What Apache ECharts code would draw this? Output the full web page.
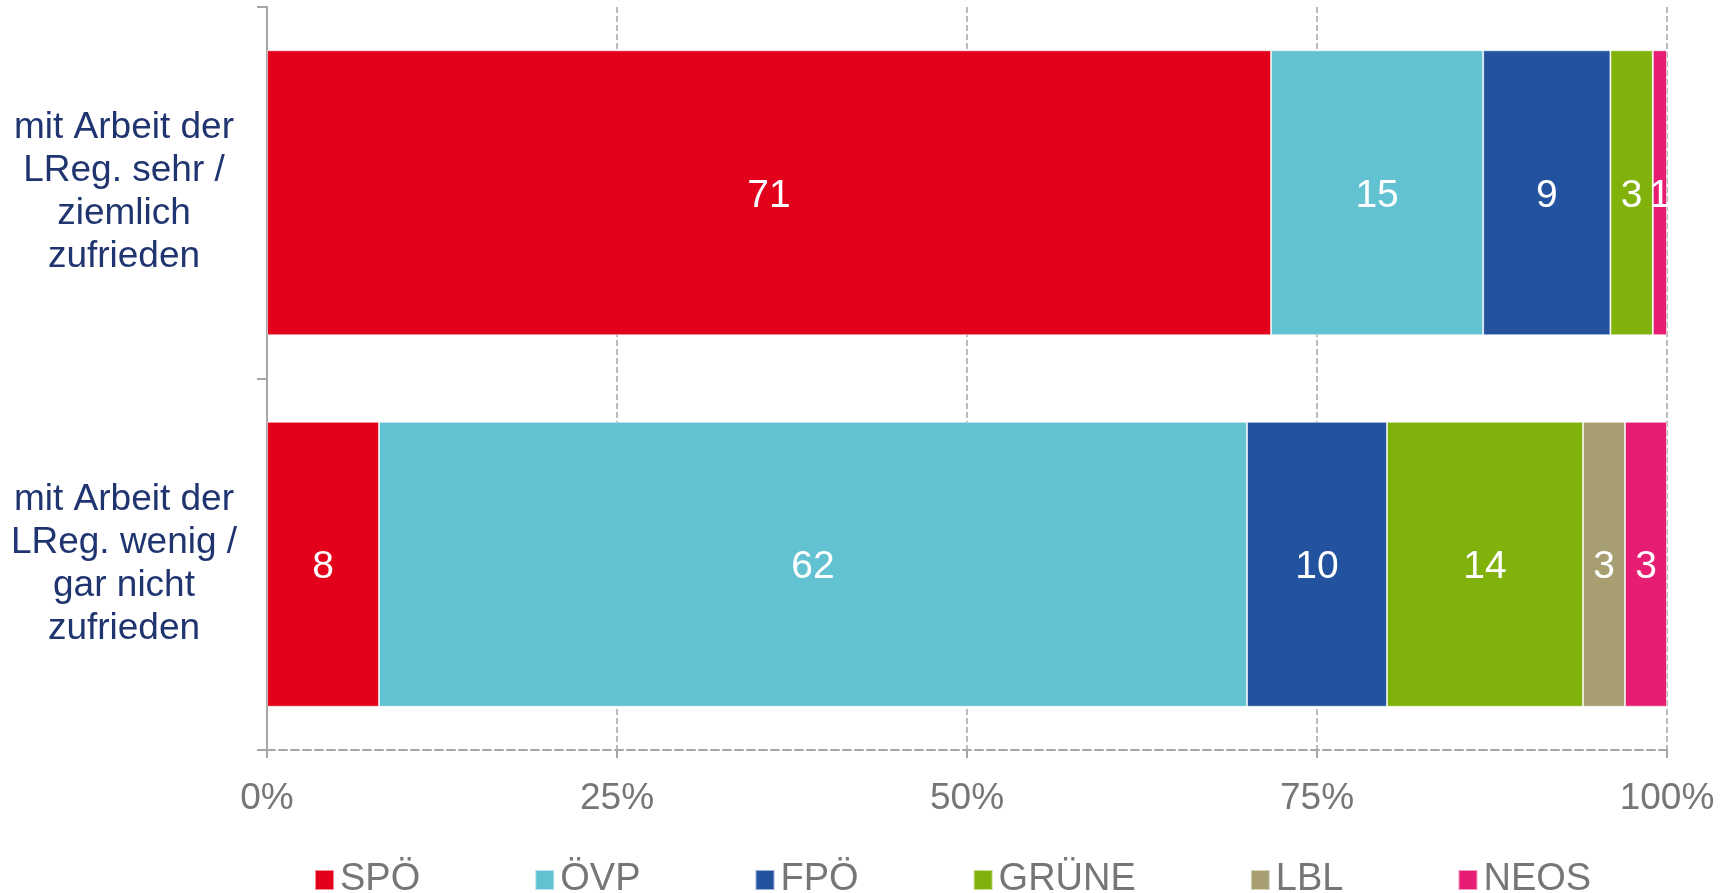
<!DOCTYPE html>
<html>
<head>
<meta charset="utf-8">
<script src="https://cdn.jsdelivr.net/npm/echarts@6/dist/echarts.min.js"></script>
<style>
  html, body { margin: 0; padding: 0; background: #fff; }
  #chart { width: 1734px; height: 893px; }
</style>
</head>
<body>
<div id="chart"></div>
<script>
// categories (top to bottom)
var categories = [
  "mit Arbeit der\nLReg. sehr /\nziemlich\nzufrieden",
  "mit Arbeit der\nLReg. wenig /\ngar nicht\nzufrieden"
];
var parties = ["SPÖ", "ÖVP", "FPÖ", "GRÜNE", "LBL", "NEOS"];
var colors = ["#E3001B", "#62C2D2", "#23539F", "#81B10B", "#A79F72", "#E71D73"];

// raw values per party, one per category
var spoe = [71, 8];
var oevp = [15, 62];
var fpoe = [9, 10];
var gruene = [3, 14];
var lbl = [0, 3];
var neos = [1, 3];
var tickLabels = ["0%", "25%", "50%", "75%", "100%"];

var raw = [spoe, oevp, fpoe, gruene, lbl, neos];
// 100% stacked: each category is scaled to its own total
var totals = categories.map(function (c, i) {
  return raw.reduce(function (s, arr) { return s + arr[i]; }, 0);
});

var font = "'Liberation Sans', Arial, sans-serif";
var gray = "#A6A6A6";
var textGray = "#767676";

var series = parties.map(function (name, k) {
  return {
    name: name,
    type: "bar",
    stack: "total",
    barWidth: 285,
    itemStyle: { color: colors[k], borderColor: "rgba(255,255,255,0.55)", borderWidth: 1 },
    label: {
      show: true,
      position: "inside",
      offset: [0, 3],
      color: "#fff",
      fontSize: 39,
      fontFamily: font,
      formatter: function (p) {
        var v = raw[p.seriesIndex][p.dataIndex];
        return v ? String(v) : "";
      }
    },
    data: raw[k].map(function (v, i) { return v / totals[i] * 100; })
  };
});

var chart = echarts.init(document.getElementById("chart"));
chart.setOption({
  animation: false,
  color: colors,
  grid: { left: 267, right: 67, top: 7, bottom: 143, containLabel: false },
  legend: {
    data: parties,
    left: 309,
    top: 856,
    itemWidth: 19,
    itemHeight: 20,
    itemGap: 114,
    icon: "rect",
    textStyle: { color: textGray, fontSize: 38, fontFamily: font, padding: [0, 0, 0, 1] }
  },
  xAxis: {
    type: "value",
    min: 0,
    max: 100,
    interval: 25,
    axisLine: { show: true, lineStyle: { color: gray, width: 2, type: "dashed" } },
    axisTick: { show: true, length: 10, lineStyle: { color: gray, width: 2, type: "dashed" } },
    splitLine: { show: true, lineStyle: { color: gray, width: 1.5, type: "dashed" } },
    axisLabel: {
      color: textGray,
      fontSize: 37,
      fontFamily: font,
      margin: 30,
      formatter: function (v) { return tickLabels[Math.round(v / 25)]; }
    }
  },
  yAxis: {
    type: "category",
    inverse: true,
    data: categories,
    axisLine: { show: true, lineStyle: { color: gray, width: 2 } },
    axisTick: { show: true, length: 10, lineStyle: { color: gray, width: 2 } },
    splitLine: { show: false },
    axisLabel: {
      color: "#203570",
      fontSize: 37,
      fontFamily: font,
      lineHeight: 43,
      align: "center",
      margin: 143,
      padding: [10, 0, 0, 0]
    }
  },
  series: series
});
</script>
</body>
</html>
